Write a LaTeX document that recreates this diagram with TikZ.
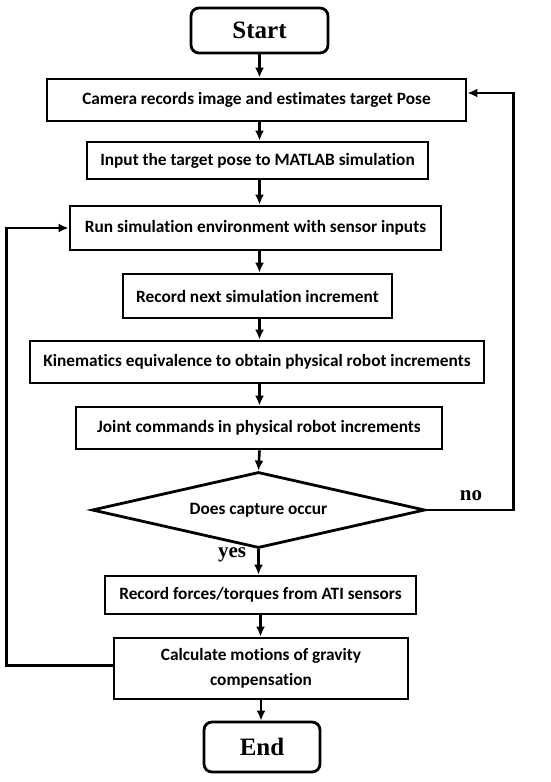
\documentclass[tikz,border=0pt]{standalone}
\usepackage{fontspec}
\usepackage{tikz}
\usetikzlibrary{shapes.geometric,arrows.meta}
\newfontfamily\boxfont[Ligatures=NoCommon]{Carlito}
\newfontfamily\termfont{Liberation Serif}

\begin{document}
\begin{tikzpicture}[x=1pt,y=-1pt,
        step box/.style={draw,line width=2.8pt,inner sep=0pt,font=\boxfont\bfseries\fontsize{17.3}{20}\selectfont},
        term box/.style={draw,line width=2.8pt,rounded corners=8pt,inner sep=0pt,font=\termfont\bfseries\fontsize{25}{28}\selectfont},
        flow/.style={line width=2.6pt,-{Latex[length=10pt,width=9pt]}},
        answer/.style={font=\termfont\bfseries\fontsize{21}{24}\selectfont}]
        \useasboundingbox (0,0) rectangle (550,782);
        \node[term box,minimum width=137pt,minimum height=45pt] (start) at (259.5,30.5) {Start};
        \node[step box,minimum width=419pt,minimum height=42pt] (cam) at (256.5,100) {Camera records image and estimates target Pose};
        \node[step box,minimum width=341pt,minimum height=37pt] (input) at (257.5,160.5) {Input the target pose to MATLAB simulation};
        \node[step box,minimum width=371pt,minimum height=44pt] (run) at (255.5,228) {Run simulation environment with sensor inputs};
        \node[step box,minimum width=269pt,minimum height=44pt] (next) at (257.5,296) {Record next simulation increment};
        \node[step box,minimum width=454pt,minimum height=42pt] (kin) at (257,362) {Kinematics equivalence to obtain physical robot increments};
        \node[step box,minimum width=366pt,minimum height=42pt] (joint) at (259,428) {Joint commands in physical robot increments};
        \node[step box,diamond,shape aspect=4.4,minimum width=333pt,minimum height=76pt] (capture) at (258.5,510) {Does capture occur};
        \node[step box,minimum width=311pt,minimum height=38pt] (forces) at (260.5,595) {Record forces/torques from ATI sensors};
        \node[step box,minimum width=294pt,minimum height=61pt,align=center,font=\boxfont\bfseries\fontsize{17.3}{25}\selectfont] (calc) at (261,668.5) {Calculate motions of gravity\\compensation};
        \node[term box,minimum width=116pt,minimum height=50pt] (end) at (262,747) {End};
        \draw[flow] (start.south) -- (start.south |- cam.north);
        \draw[flow] (cam.south -| start.south) -- (start.south |- input.north);
        \draw[flow] (input.south -| start.south) -- (start.south |- run.north);
        \draw[flow] (run.south -| start.south) -- (start.south |- next.north);
        \draw[flow] (next.south -| start.south) -- (start.south |- kin.north);
        \draw[flow] (kin.south -| start.south) -- (start.south |- joint.north);
        \draw[flow] (joint.south -| start.south) -- (capture.north);
        \draw[flow] (capture.south) -- (capture.south |- forces.north);
        \draw[flow] (forces.south) -- (forces.south |- calc.north);
        \draw[flow] (calc.south) -- (calc.south |- end.north);
        \draw[flow] (capture.east) -- ++(87,0) |- ([yshift=7pt]cam.east);
        \draw[flow] ([yshift=3pt]calc.west) -- ++(-106,0) |- (run.west);
        \node[answer] (no) at (471,496) {no};
        \node[answer] (yes) at (232,555) {yes};
\end{tikzpicture}
\end{document}
